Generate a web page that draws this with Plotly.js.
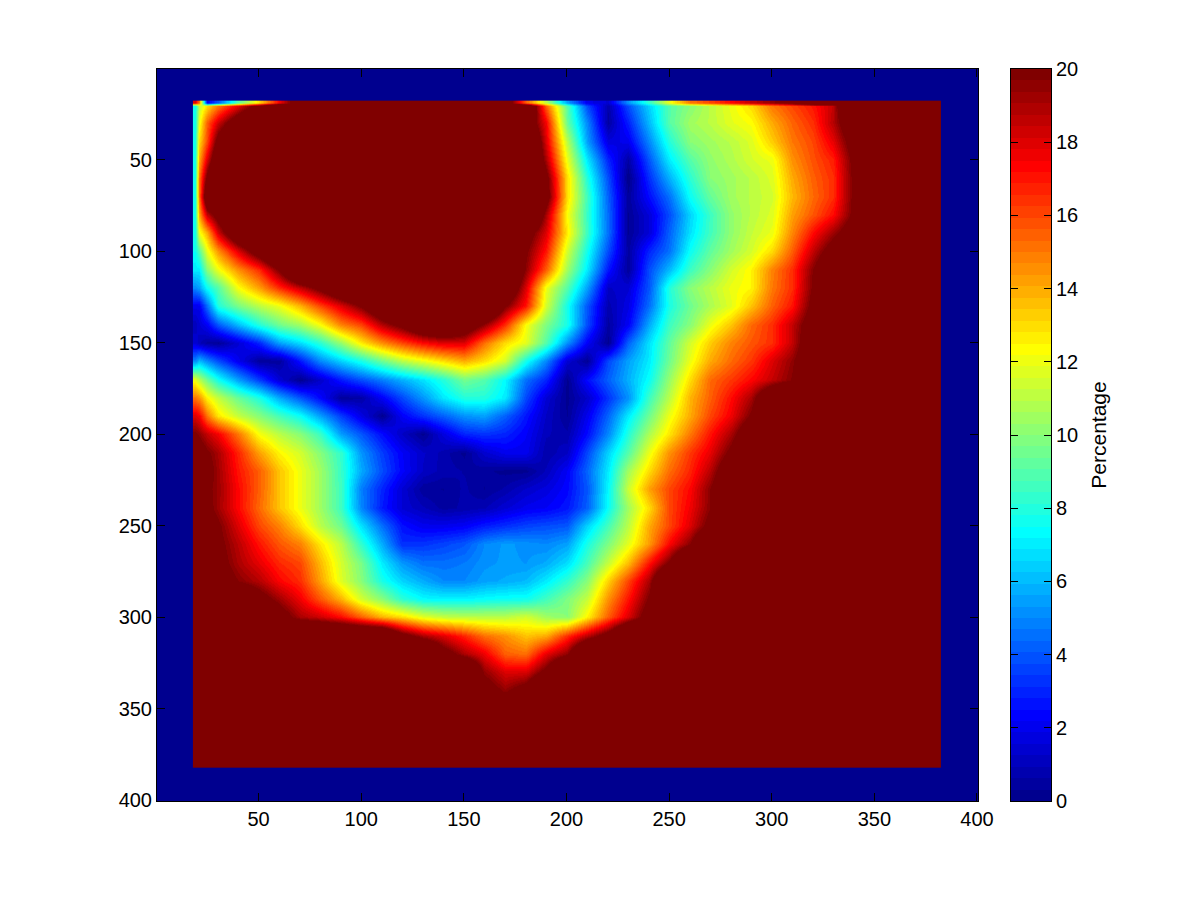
<!DOCTYPE html>
<html><head><meta charset="utf-8">
<script src="https://cdn.plot.ly/plotly-3.0.1.min.js"></script>
<style>html,body{margin:0;background:#fff}</style></head>
<body><div id="chart" style="width:1200px;height:900px"></div>
<script>
const xNodes=[19,21,25,30, 40,50,60,70,80,90, 100,110,120,130,140,150,160,170,180,190, 200,210,220,230,240,250,260,270,280,290, 300,310,320,330,340,350,381,382];
const yNodes=[18.7,20.5,30,40,50,60,70,80,90,100,110,120,130,140,150,160,170,180,190,200,210,220,230,240,250,260,270,280,290,300,310,320,330,340,350,360,381,382];
const percentage=[
[18,15,2,4, 9,13,17.5,22,25,25, 25,25,25,25,25,25,25,22,15.5,11, 5.5,2,1.5,5.2,8.3,12,15,16,17.3,18.5, 19.5,21,25,25,25,25,25,25],
[7.5,11,13,15, 17.8,21,25,25,25,25, 25,25,25,25,25,25,25,25,24,15.5, 9,3.8,0.7,3.8,6.5,9,10,11,12,13, 15,16,17,18.5,25,25,25,25],
[7.5,12,15.5,18.3, 22,25,25,25,25,25, 25,25,25,25,25,25,25,25,22,17.5, 9.4,5,0.5,2.9,6,9,10.5,11,11.8,12.3, 14,15.4,16.5,18.8,22,25,25,25],
[7.5,13,16,21, 25,25,25,25,25,25, 25,25,25,25,25,25,25,25,25,18, 11,5.5,1.7,2,5,8,10,10.5,11,11.7, 13.3,15,16,17.8,21,25,25,25],
[7.5,14,18,23, 25,25,25,25,25,25, 25,25,25,25,25,25,25,25,25,19, 12,7,3,0.6,4,7,9,10.2,10.8,11.5, 12,14.5,15.8,16.8,20.4,25,25,25],
[7.5,15,20.5,25, 25,25,25,25,25,25, 25,25,25,25,25,25,25,25,25,20.5, 13,8,3.8,0,3.2,5.8,8.2,10,10.5,11, 11.7,14,15.5,16.5,20.2,25,25,25],
[7.5,15,23,25, 25,25,25,25,25,25, 25,25,25,25,25,25,25,25,25,21, 13,8.6,4.2,0.4,2.5,4.5,7.5,9.3,10.5,11, 11.5,13.7,15.3,16.5,20.2,25,25,25],
[7.5,14,18.5,21, 25,25,25,25,25,25, 25,25,25,25,25,25,25,25,25,19, 12.3,8.4,4.4,0.3,1.6,3.8,6.5,8.5,10.2,11, 11.7,14.2,15.7,17.2,20.3,25,25,25],
[7.5,12,14,18.2, 23,25,25,25,25,25, 25,25,25,25,25,25,25,25,21,18, 12.7,8.5,4.5,0.3,1.6,4.2,6.8,8.6,10.2,11.2, 12,14.7,17.2,19.2,21.5,25,25,25],
[7.5,9,12,14.5, 18,21.5,25,25,25,25, 25,25,25,25,25,25,25,25,20,17, 11.5,7.7,3.8,0.5,3,4.5,7.5,9.2,10.5,11.5, 13,15.5,18.5,21,25,25,25,25],
[7,7,10,12, 14.5,16.5,20,25,25,25, 25,25,25,25,25,25,25,25,19.5,15.5, 10.5,7,2.7,0.4,3.8,6,8.5,10,11.5,12.5, 14.8,16.5,19.8,23,25,25,25,25],
[5,5.5,7.5,9, 12.2,14.2,16.5,18.5,20.5,23, 25,25,25,25,25,25,25,23,18,12, 9,5.5,1.2,1.5,4,8,10,11,12,12.5, 15,16.5,20,24,25,25,25,25],
[2,2,4.5,8, 9.7,11,12,13.8,16,18, 20,23,25,25,25,25,25,20,17,11.5, 7.7,4,0.8,1.8,4.5,7.8,9.5,10.7,11.8,13.5, 15.5,17,20.5,25,25,25,25,25],
[1,1.5,2.2,4, 6,8,9.5,10.5,12.2,14.8, 16,18.8,20.5,23,24,22,19.5,16.5,12.2,9.8, 7.8,3.8,0.5,2.2,5.7,8.5,10,12,13.5,15.3, 16.5,18.5,21.3,25,25,25,25,25],
[1.5,1,0.5,0.3, 1.5,3,5.5,6.7,8.2,10.3, 12.7,14.6,16,17.3,18,18,15.2,13,11.8,9, 5.2,2.2,0.2,4.2,6.8,9.2,11.5,13.3,14.8,15.7, 16.5,18.5,22,25,25,25,25,25],
[5,6,5,3.8, 2,0.4,0.4,2.7,5,6.5, 7.8,9.5,11,12,13,14,13,11.5,7.7,5, 1.5,0.3,3.7,5.5,7,9.5,12,14,15.3,16.3, 18,19.5,22,25,25,25,25,25],
[12,11,9.5,7.7, 5.5,3.5,1.5,0.2,1.3,2.8, 3.8,4.8,5.8,6.8,8,9.6,9,7.3,4.5,3, 0.2,2.5,4.2,5.8,7.5,10.3,13,15.3,16.3,17.3, 18.5,19.8,22,25,25,25,25,25],
[15,14.5,12.5,11.2, 9.4,7.9,5.7,4,2.4,0.4, 0.6,2.2,3.7,5.3,6.9,8,8,7,3.7,1.5, 0.2,1.3,3.3,5.2,8.5,11,13.8,15.5,17.2,19, 23,25,25,25,25,25,25,25],
[18,17.5,15,12.8, 11.2,10,8.7,7.5,5.5,3.5, 1.8,0.2,2.2,3.3,4.2,5.2,5.5,4.2,2.7,1.2, 0.3,2,4.3,7,9.5,12,14,16,17.6,20, 24,25,25,25,25,25,25,25],
[20,19.5,18.5,17.5, 15,12.2,11,10,8.5,5.4, 4,2.5,1.2,0.2,1.7,3,3.3,3,2.2,1, 0.7,2.5,5,8,10.7,12.8,15,17,19,22, 25,25,25,25,25,25,25,25],
[25,21,20,19, 16.7,14.2,12.5,11.5,10,8.3, 5.3,3.5,2.2,1.3,0.8,0.2,1.4,2,2,0.7, 1.2,3.7,6.5,9,12,14.5,16.3,17.8,20.3,24, 25,25,25,25,25,25,25,25],
[25,22,20.5,19.2, 17,15.5,13.5,12,10.5,8.4, 5.7,3.8,2.3,1.2,0.8,0.6,0.4,0.2,0.2,1, 2.2,4.3,7,10.5,13,15.2,16.7,18.7,22,25, 25,25,25,25,25,25,25,25],
[25,21,20,19.3, 17.3,15.5,13.5,12,10.5,8.5, 4.8,3,1.5,0.4,0.3,0.7,0.3,0.7,1.3,1.7, 2.4,4,7.3,11.3,14.2,16,17.3,19.7,23,25, 25,25,25,25,25,25,25,25],
[25,21,20.3,19.2, 17.3,15.3,13.5,12,10.5,8.5, 5,2.8,1.5,1,0.5,0.7,0.9,1.5,2,2.2, 2.7,4.2,7.5,10.5,13,16,17.6,19.7,24,25, 25,25,25,25,25,25,25,25],
[25,25,21,20, 18,16,14.8,13,11,9.5, 6.8,4.5,2.6,2,2,2.2,2.8,3.2,3.6,3.8, 4,6.5,8.7,11,14,16,18,20.5,25,25, 25,25,25,25,25,25,25,25],
[25,25,23,20.2, 18.7,17,15.7,14.8,12.8,11, 8.3,5.7,3.2,3.3,3.6,4,5,5.4,5.2,5, 5.5,7.8,9.8,11.8,14.3,17.3,19.7,24,25,25, 25,25,25,25,25,25,25,25],
[25,25,25,20.5, 19,17.8,16.6,16,13.7,11.5, 9.7,7,5.3,4.5,4.5,4.7,5.2,5.4,5.3,5.7, 6.7,8.7,11.2,13.6,17,20,25,25,25,25, 25,25,25,25,25,25,25,25],
[25,25,25,21, 19.7,18.8,17.4,16.5,14.2,11.7, 10,7.8,6.5,5.7,5,5,5.5,5.7,6,7, 8.3,10,13.2,16,19,25,25,25,25,25, 25,25,25,25,25,25,25,25],
[25,25,25,25, 23,20.8,19.2,17.6,15.7,13.8, 11.5,10,8.2,7.3,7.2,7.2,7.4,7.6,7.6,8.6, 9.8,11.2,14.5,17,20,25,25,25,25,25, 25,25,25,25,25,25,25,25],
[25,25,25,25, 25,25,21,19,18.3,17.2, 15.5,13.8,13,11.8,11.2,11,11,11,11.5,10.5, 10,12.5,15.5,18,21,25,25,25,25,25, 25,25,25,25,25,25,25,25],
[25,25,25,25, 25,25,25,25,25,25, 25,25,21,19,18,16.7,15.2,14.5,13.5,14, 16.5,18.7,21,25,25,25,25,25,25,25, 25,25,25,25,25,25,25,25],
[25,25,25,25, 25,25,25,25,25,25, 25,25,25,25,21,19,17.7,15.5,15.2,17.8, 19.5,25,25,25,25,25,25,25,25,25, 25,25,25,25,25,25,25,25],
[25,25,25,25, 25,25,25,25,25,25, 25,25,25,25,25,25,19.5,18,18,20.5, 25,25,25,25,25,25,25,25,25,25, 25,25,25,25,25,25,25,25],
[25,25,25,25, 25,25,25,25,25,25, 25,25,25,25,25,25,21,19.5,21,25, 25,25,25,25,25,25,25,25,25,25, 25,25,25,25,25,25,25,25],
[25,25,25,25, 25,25,25,25,25,25, 25,25,25,25,25,25,25,23,25,25, 25,25,25,25,25,25,25,25,25,25, 25,25,25,25,25,25,25,25],
[25,25,25,25, 25,25,25,25,25,25, 25,25,25,25,25,25,25,25,25,25, 25,25,25,25,25,25,25,25,25,25, 25,25,25,25,25,25,25,25],
[25,25,25,25, 25,25,25,25,25,25, 25,25,25,25,25,25,25,25,25,25, 25,25,25,25,25,25,25,25,25,25, 25,25,25,25,25,25,25,25],
[25,25,25,25, 25,25,25,25,25,25, 25,25,25,25,25,25,25,25,25,25, 25,25,25,25,25,25,25,25,25,25, 25,25,25,25,25,25,25,25]
];
const axisTicks=[50,100,150,200,250,300,350,400];
const barTicks=[0,2,4,6,8,10,12,14,16,18,20];
const barTitle='Percentage';

const clamp=v=>Math.round(255*Math.max(0,Math.min(1,v)));
const jet=i=>`rgb(${clamp(Math.min((i-23)/16,(71-i)/16))},${clamp(Math.min((i-7)/16,(55-i)/16))},${clamp(Math.min((i+9)/16,(39-i)/16))})`;
const levels=[...Array(64).keys()];
const scale=[];levels.forEach(i=>{scale.push([i/64,jet(i)]);scale.push([(i+1)/64,jet(i)]);});
const font={family:'"Liberation Sans",Arial,sans-serif',size:20,color:'#000'};
const ax={showgrid:false,zeroline:false,ticks:'inside',ticklen:8,tickwidth:1,tickcolor:'#000',showline:true,linecolor:'#000',linewidth:1,mirror:'ticks',tickfont:font};
const W=894;
Plotly.newPlot('chart',[
 {type:'heatmap',x:xNodes,y:yNodes,z:percentage,zmin:0,zmax:20,zsmooth:'best',colorscale:scale,showscale:false,xaxis:'x',yaxis:'y'},
 {type:'heatmap',x:[0,1],y:[...levels,64].map(i=>i*20/64),z:levels.map(i=>[(i+0.5)*20/64]),zmin:0,zmax:20,colorscale:scale,showscale:false,xaxis:'x2',yaxis:'y2'}
],{
 width:1200,height:900,paper_bgcolor:'#fff',plot_bgcolor:'#00008f',showlegend:false,font,
 margin:{l:157,r:149,t:69,b:99,pad:0},
 xaxis:{...ax,domain:[0,821/W],range:[0.5,400.5],tickvals:axisTicks,anchor:'y'},
 yaxis:{...ax,range:[400.5,0.5],tickvals:axisTicks,anchor:'x'},
 xaxis2:{domain:[854/W,1],range:[0,1],anchor:'y2',showticklabels:false,ticks:'',showgrid:false,zeroline:false,showline:true,linecolor:'#000',linewidth:1,mirror:true},
 yaxis2:{...ax,ticklen:7,anchor:'x2',side:'right',range:[0,20],tickvals:barTicks,title:{text:barTitle,font:{...font,size:21},standoff:14}}
},{displayModeBar:false,staticPlot:true});
</script></body></html>
